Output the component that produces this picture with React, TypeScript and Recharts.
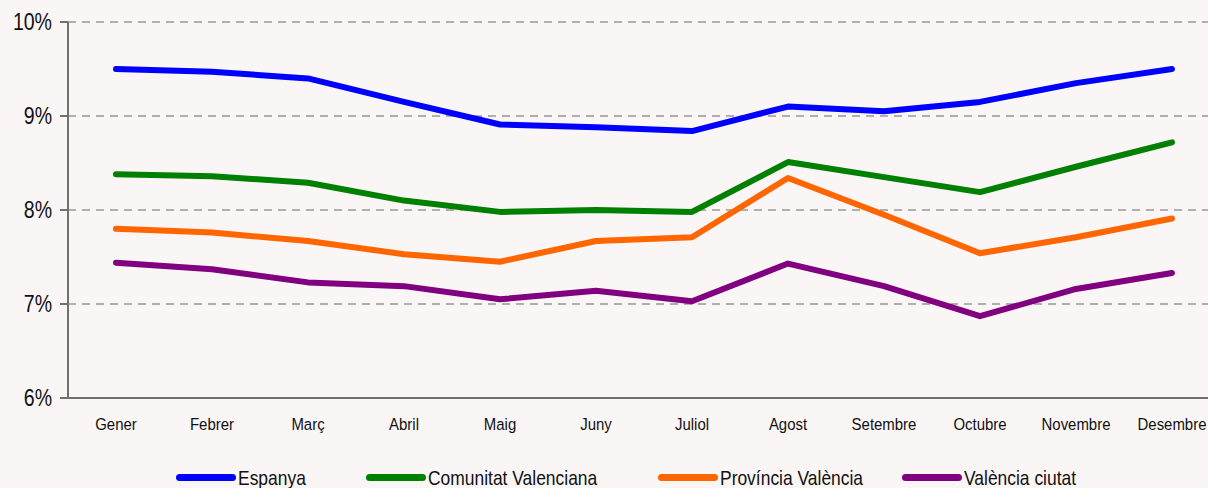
import { LineChart, Line, XAxis, YAxis, CartesianGrid } from "recharts";

const months = ["Gener", "Febrer", "Març", "Abril", "Maig", "Juny", "Juliol", "Agost", "Setembre", "Octubre", "Novembre", "Desembre"];
const espanya = [9.5, 9.47, 9.4, 9.15, 8.91, 8.88, 8.84, 9.1, 9.05, 9.15, 9.35, 9.5];
const comunitat = [8.38, 8.36, 8.29, 8.1, 7.98, 8.0, 7.98, 8.51, 8.35, 8.19, 8.46, 8.72];
const provincia = [7.8, 7.76, 7.67, 7.53, 7.45, 7.67, 7.71, 8.34, 7.95, 7.54, 7.71, 7.91];
const ciutat = [7.44, 7.37, 7.23, 7.19, 7.05, 7.14, 7.03, 7.43, 7.19, 6.87, 7.16, 7.33];
const yTicks = [6, 7, 8, 9, 10];

const series = [
  { key: "espanya", name: "Espanya", color: "#0000ff", lx: 176 },
  { key: "comunitat", name: "Comunitat Valenciana", color: "#008000", lx: 366 },
  { key: "provincia", name: "Província València", color: "#ff6600", lx: 658 },
  { key: "ciutat", name: "València ciutat", color: "#800080", lx: 902 },
];

const data = months.map((m, i) => ({
  month: m,
  espanya: espanya[i],
  comunitat: comunitat[i],
  provincia: provincia[i],
  ciutat: ciutat[i],
}));

const font = "'Liberation Sans', Arial, sans-serif";

// narrow-looking labels: draw the text then squeeze it horizontally
const MonthTick = ({ x, y, payload }: any) => (
  <g transform={`translate(${x},${y + 24}) scale(0.88,1)`}>
    <text textAnchor="middle" fill="#111" fontSize={17} fontFamily={font}>
      {payload.value}
    </text>
  </g>
);

const PctTick = ({ x, y, payload }: any) => (
  <g transform={`translate(${x - 6},${y + 8}) scale(0.85,1)`}>
    <text textAnchor="end" fill="#111" fontSize={23} fontFamily={font}>
      {`${payload.value}%`}
    </text>
  </g>
);

export default function App() {
  return (
    <div
      style={{
        width: 1208,
        height: 488,
        background: "#fbf6f6",
        position: "relative",
        overflow: "hidden",
        fontFamily: font,
      }}
    >
      <style>{`body{margin:0;background:#fbf6f6;overflow:hidden}`}</style>
      <LineChart
        width={1220}
        height={488}
        data={data}
        margin={{ top: 22, right: 0, left: 0, bottom: 0 }}
      >
        <CartesianGrid vertical={false} stroke="#666" strokeDasharray="8 6" />
        <XAxis
          dataKey="month"
          height={90}
          stroke="#707070"
          strokeWidth={2}
          tickLine={false}
          tick={<MonthTick />}
          padding={{ left: 48, right: 48 }}
          interval={0}
        />
        <YAxis
          width={68}
          domain={[6, 10]}
          ticks={yTicks}
          stroke="#707070"
          strokeWidth={2}
          tickSize={8}
          tick={<PctTick />}
        />
        {series.map((s) => (
          <Line
            key={s.key}
            dataKey={s.key}
            name={s.name}
            stroke={s.color}
            strokeWidth={6}
            strokeLinecap="round"
            strokeLinejoin="round"
            dot={false}
            activeDot={false}
            isAnimationActive={false}
          />
        ))}
      </LineChart>
      {series.map((s) => (
        <div
          key={s.key}
          style={{
            position: "absolute",
            left: s.lx,
            top: 466,
            display: "flex",
            alignItems: "center",
            fontSize: 21,
            color: "#111",
            whiteSpace: "nowrap",
          }}
        >
          <span
            style={{
              display: "inline-block",
              width: 60,
              height: 7,
              borderRadius: 4,
              background: s.color,
              marginRight: 2,
              marginTop: -1,
            }}
          />
          <span style={{ display: "inline-block", transform: "scaleX(0.83)", transformOrigin: "left center" }}>
            {s.name}
          </span>
        </div>
      ))}
    </div>
  );
}
